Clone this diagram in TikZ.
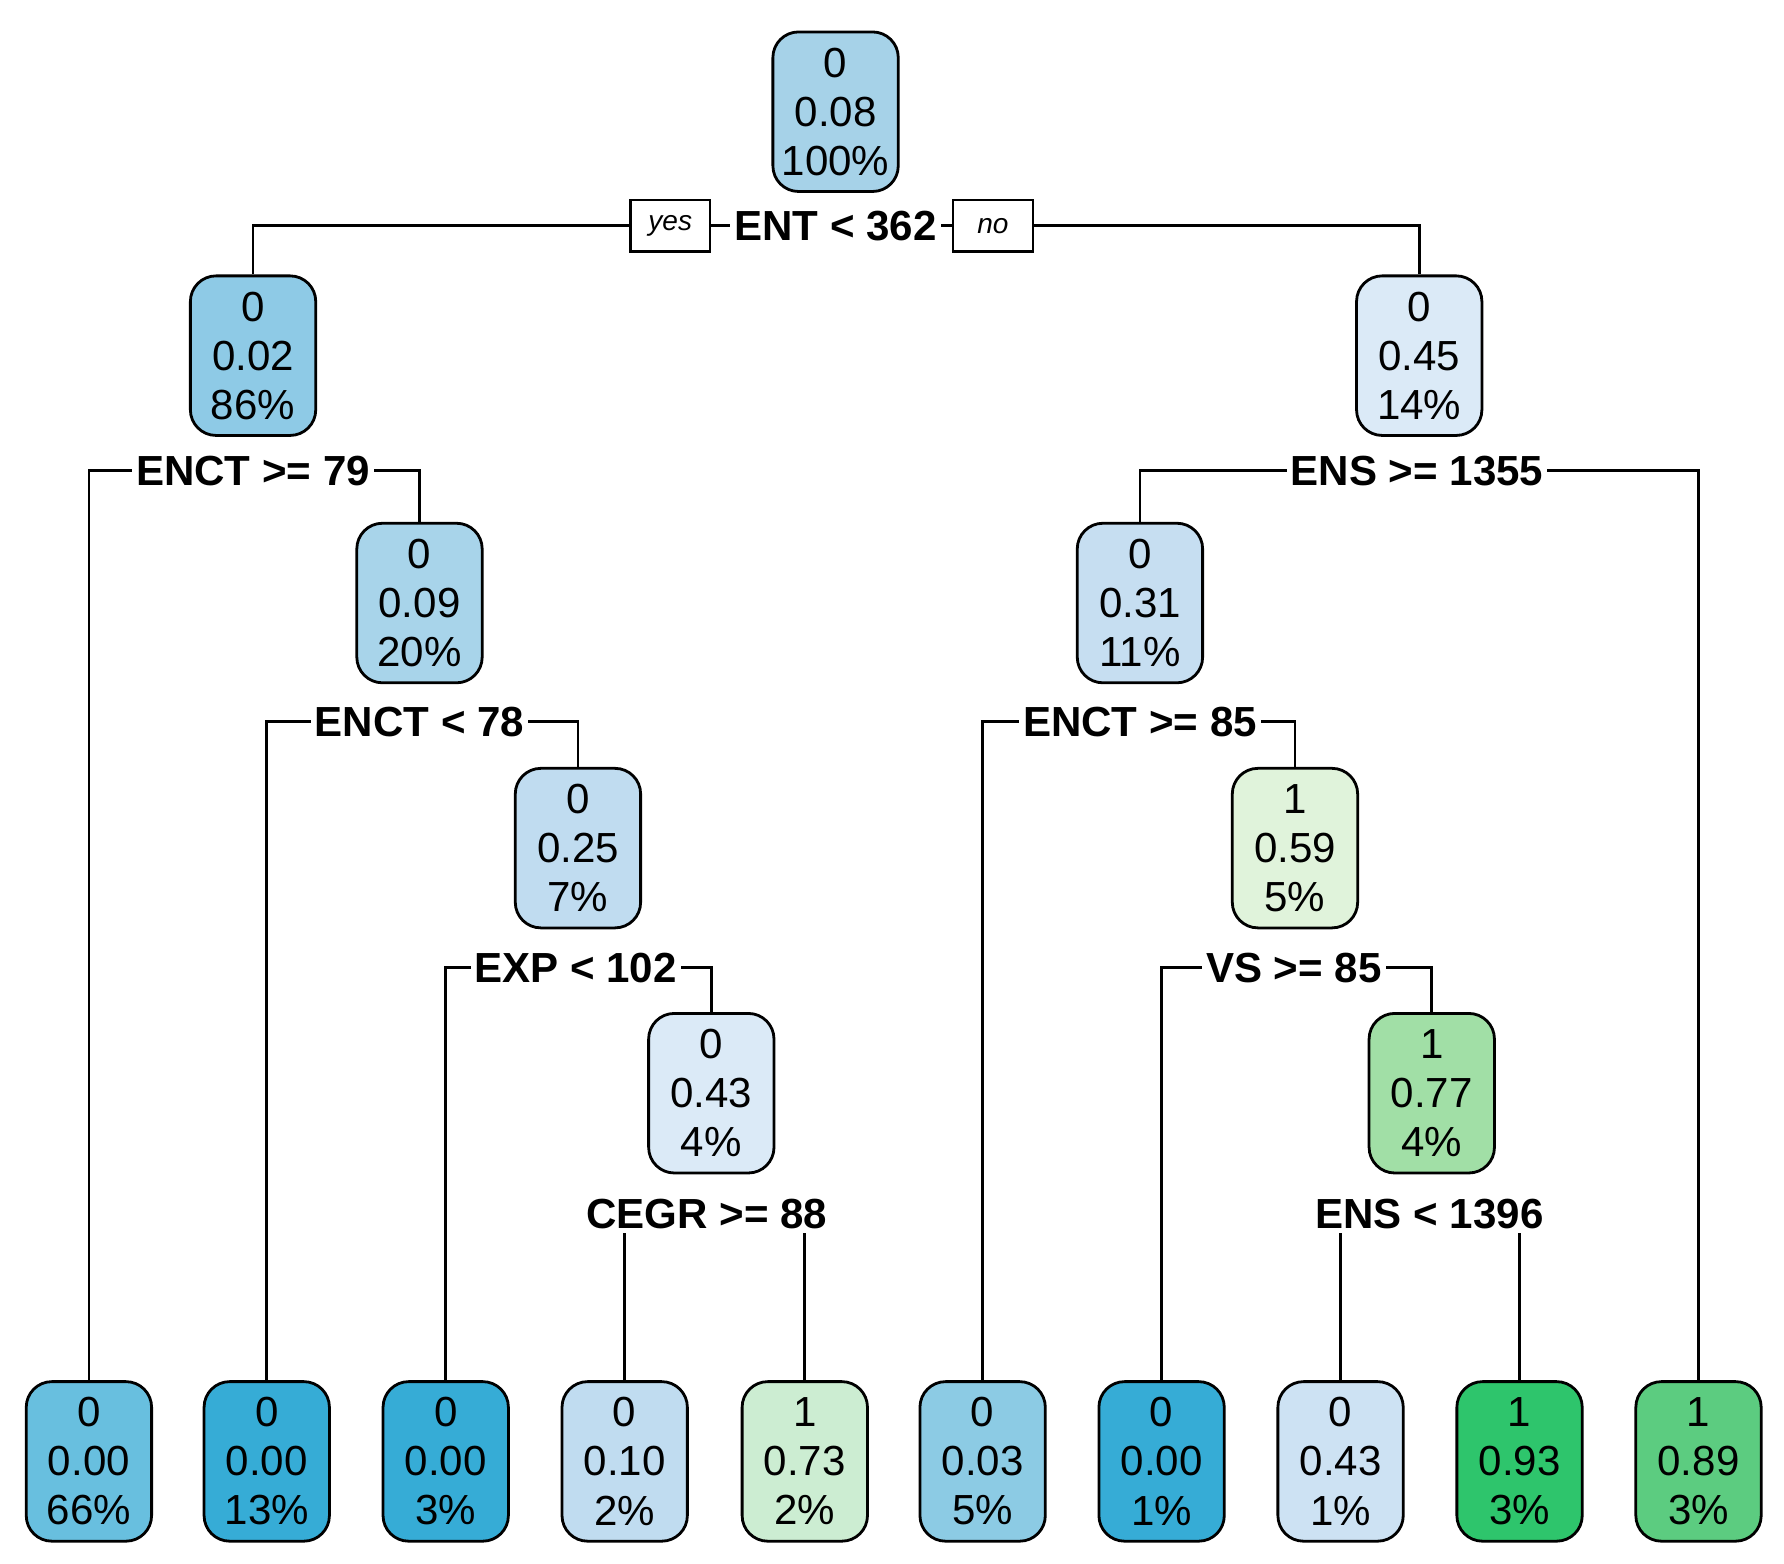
\documentclass[tikz,border=0pt]{standalone}
\usepackage{fontspec}
\setmainfont{Liberation Sans}
\usetikzlibrary{backgrounds}
\definecolor{cR}{HTML}{A6D2E8}\definecolor{cA}{HTML}{8ECAE6}\definecolor{cB}{HTML}{DBEAF7}
\definecolor{cC}{HTML}{A8D4EA}\definecolor{cD}{HTML}{C0DCF0}\definecolor{cE}{HTML}{C6DEF1}
\definecolor{cF}{HTML}{E0F3DB}\definecolor{cG}{HTML}{A1DFA6}\definecolor{cH}{HTML}{68BFDF}
\definecolor{cI}{HTML}{36ACD6}\definecolor{cJ}{HTML}{CCEDD2}\definecolor{cK}{HTML}{8CCBE4}
\definecolor{cL}{HTML}{CDE2F3}\definecolor{cM}{HTML}{2EC56C}\definecolor{cN}{HTML}{5CCC80}
\tikzset{
 tn/.style={draw=black,line width=1.4pt,rounded corners=0.45cm,minimum width=2.2cm,minimum height=2.8cm,inner sep=0pt,align=center,font=\fontsize{21}{24.5}\selectfont,fill=#1},
 sp/.style={fill=white,inner sep=2pt,font=\bfseries\fontsize{21}{24}\selectfont},
 yn/.style={draw=black,line width=1.2pt,fill=white,minimum width=1.4cm,minimum height=0.9cm,inner sep=0pt,font=\itshape\fontsize{14}{16}\selectfont},
 ln/.style={line width=1.4pt}
}
\begin{document}
\begin{tikzpicture}[x=0.02cm,y=-0.02cm]
\useasboundingbox (0,0) rectangle (1565,1372);
\node[tn=cR] (r) at (733,98) {0\\0.08\\100\%};
\node[sp] (s0) at (733,198) {ENT < 362};
\node[yn] (yes) at (588,198) {yes};
\node[yn] (no) at (871,198) {no};
\node[tn=cA] (a) at (222,312) {0\\0.02\\86\%};
\node[tn=cB] (b) at (1245,312) {0\\0.45\\14\%};
\node[sp] (sa) at (222,413) {ENCT >= 79};
\node[sp] (sb) at (1243,413) {ENS >= 1355};
\node[tn=cC] (c) at (368,529) {0\\0.09\\20\%};
\node[tn=cE] (d) at (1000,529) {0\\0.31\\11\%};
\node[sp] (sc) at (368,633) {ENCT < 78};
\node[sp] (sd) at (1000,633) {ENCT >= 85};
\node[tn=cD] (e) at (507,744) {0\\0.25\\7\%};
\node[tn=cF] (f) at (1136,744) {1\\0.59\\5\%};
\node[sp] (se) at (505,849) {EXP < 102};
\node[sp] (sf) at (1135,849) {VS >= 85};
\node[tn=cB] (g) at (624,959) {0\\0.43\\4\%};
\node[tn=cG] (h) at (1256,959) {1\\0.77\\4\%};
\node[sp] (sg) at (620,1065) {CEGR >= 88};
\node[sp] (sh) at (1254,1065) {ENS < 1396};
\node[tn=cH] (l1) at (78,1282) {0\\0.00\\66\%};
\node[tn=cI] (l2) at (234,1282) {0\\0.00\\13\%};
\node[tn=cI] (l3) at (391,1282) {0\\0.00\\3\%};
\node[tn=cD] (l4) at (548,1282) {0\\0.10\\2\%};
\node[tn=cJ] (l5) at (706,1282) {1\\0.73\\2\%};
\node[tn=cK] (l6) at (862,1282) {0\\0.03\\5\%};
\node[tn=cI] (l7) at (1019,1282) {0\\0.00\\1\%};
\node[tn=cL] (l8) at (1176,1282) {0\\0.43\\1\%};
\node[tn=cM] (l9) at (1333,1282) {1\\0.93\\3\%};
\node[tn=cN] (l10) at (1490,1282) {1\\0.89\\3\%};
\begin{scope}[on background layer]
\draw[ln] (a.north) |- (s0.center) -| (b.north);
\draw[ln] (l1.north) |- (sa.center) -| (c.north);
\draw[ln] (d.north) |- (sb.center) -| (l10.north);
\draw[ln] (l2.north) |- (sc.center) -| (e.north);
\draw[ln] (l6.north) |- (sd.center) -| (f.north);
\draw[ln] (l3.north) |- (se.center) -| (g.north);
\draw[ln] (l7.north) |- (sf.center) -| (h.north);
\draw[ln] (l4.north) |- (sg.center) -| (l5.north);
\draw[ln] (l8.north) |- (sh.center) -| (l9.north);
\end{scope}
\end{tikzpicture}
\end{document}
